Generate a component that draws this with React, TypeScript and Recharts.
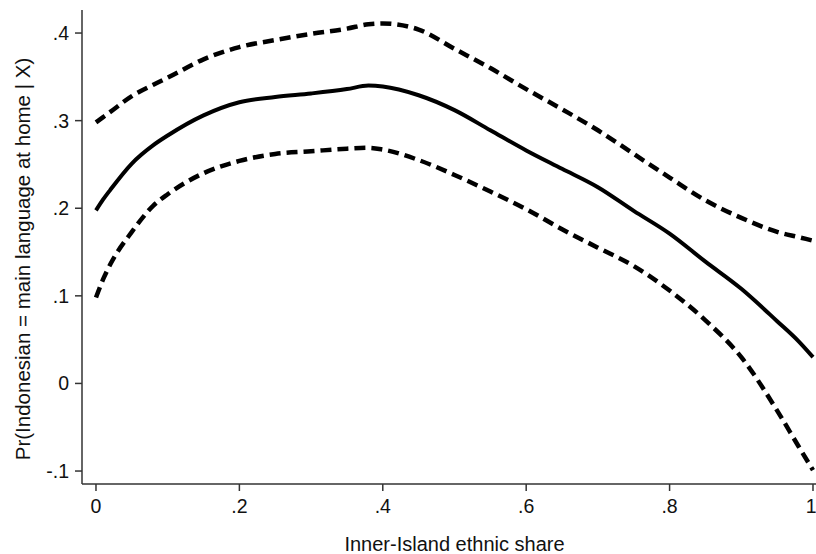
import React from "react";
import { LineChart, Line, XAxis, YAxis, Label } from "recharts";

const xValues = [0, 0.01, 0.02, 0.05, 0.08, 0.1, 0.15, 0.2, 0.25, 0.3, 0.35, 0.38, 0.4, 0.45, 0.5, 0.55, 0.6, 0.65, 0.7, 0.75, 0.8, 0.85, 0.9, 0.95, 0.98, 1];
const fitted = [0.1975, 0.210, 0.221, 0.251, 0.272, 0.283, 0.306, 0.321, 0.327, 0.331, 0.336, 0.340, 0.339, 0.329, 0.312, 0.289, 0.266, 0.245, 0.224, 0.197, 0.171, 0.139, 0.108, 0.071, 0.048, 0.030];
const upper = [0.298, 0.304, 0.310, 0.328, 0.341, 0.349, 0.370, 0.384, 0.392, 0.399, 0.405, 0.410, 0.411, 0.404, 0.382, 0.360, 0.336, 0.313, 0.289, 0.262, 0.235, 0.209, 0.189, 0.173, 0.167, 0.163];
const lower = [0.098, 0.119, 0.136, 0.173, 0.203, 0.216, 0.240, 0.254, 0.262, 0.265, 0.268, 0.269, 0.267, 0.255, 0.238, 0.219, 0.199, 0.176, 0.155, 0.134, 0.106, 0.072, 0.030, -0.031, -0.072, -0.099];

const xTicks = [0, 0.2, 0.4, 0.6, 0.8, 1];
const yTicks = [-0.1, 0, 0.1, 0.2, 0.3, 0.4];
const xTitle = "Inner-Island ethnic share";
const yTitle = "Pr(Indonesian = main language at home | X)";

const rows = xValues.map((x, i) => ({ x, fit: fitted[i], hi: upper[i], lo: lower[i] }));

const FONT = "'Liberation Sans', Arial, Helvetica, sans-serif";

const fmt = (v: number) => {
  if (v === 0) return "0";
  if (v === 1) return "1";
  const s = String(Math.round(v * 10) / 10);
  return s.replace("0.", ".");
};

const XTitle = (props: any) => {
  const vb = props.viewBox || { x: 82, width: 734, y: 484, height: 70 };
  return (
    <text x={vb.x + vb.width / 2 + 5.5} y={551} textAnchor="middle" fontFamily={FONT} fontSize={20} fill="#111">
      {xTitle}
    </text>
  );
};

const YTitle = () => {
  const cx = 30;
  const cy = 259;
  return (
    <text x={cx} y={cy} transform={`rotate(-90 ${cx} ${cy})`} textAnchor="middle" fontFamily={FONT} fontSize={20.5} fill="#111">
      {yTitle}
    </text>
  );
};

export default function App() {
  return (
    <div style={{ position: "absolute", left: 0, top: 0, width: 816, height: 554, background: "#fff" }}>
      <LineChart width={816} height={554} data={rows} margin={{ top: 10, right: 0, bottom: 0, left: 0 }}>
        <XAxis
          dataKey="x"
          type="number"
          domain={[-0.0195, 1.0042]}
          allowDataOverflow
          ticks={xTicks}
          tickFormatter={fmt}
          height={70}
          tickSize={7}
          tickMargin={8}
          stroke="#333"
          strokeWidth={1.5}
          tick={{ fontFamily: FONT, fontSize: 19.5, fill: "#111" }}
          tickLine={{ stroke: "#333", strokeWidth: 1.5 }}
        >
          <Label content={XTitle} />
        </XAxis>
        <YAxis
          type="number"
          domain={[-0.1148, 0.4263]}
          allowDataOverflow
          ticks={yTicks}
          tickFormatter={fmt}
          width={82}
          tickSize={7}
          tickMargin={6}
          stroke="#333"
          strokeWidth={1.5}
          tick={{ fontFamily: FONT, fontSize: 19.5, fill: "#111" }}
          tickLine={{ stroke: "#333", strokeWidth: 1.5 }}
        >
          <Label content={YTitle} />
        </YAxis>
        <Line dataKey="hi" type="monotone" stroke="#000" strokeWidth={4.5} strokeDasharray="11 6" dot={false} activeDot={false} isAnimationActive={false} />
        <Line dataKey="lo" type="monotone" stroke="#000" strokeWidth={4.5} strokeDasharray="11 6" dot={false} activeDot={false} isAnimationActive={false} />
        <Line dataKey="fit" type="monotone" stroke="#000" strokeWidth={4} dot={false} activeDot={false} isAnimationActive={false} />
      </LineChart>
    </div>
  );
}
